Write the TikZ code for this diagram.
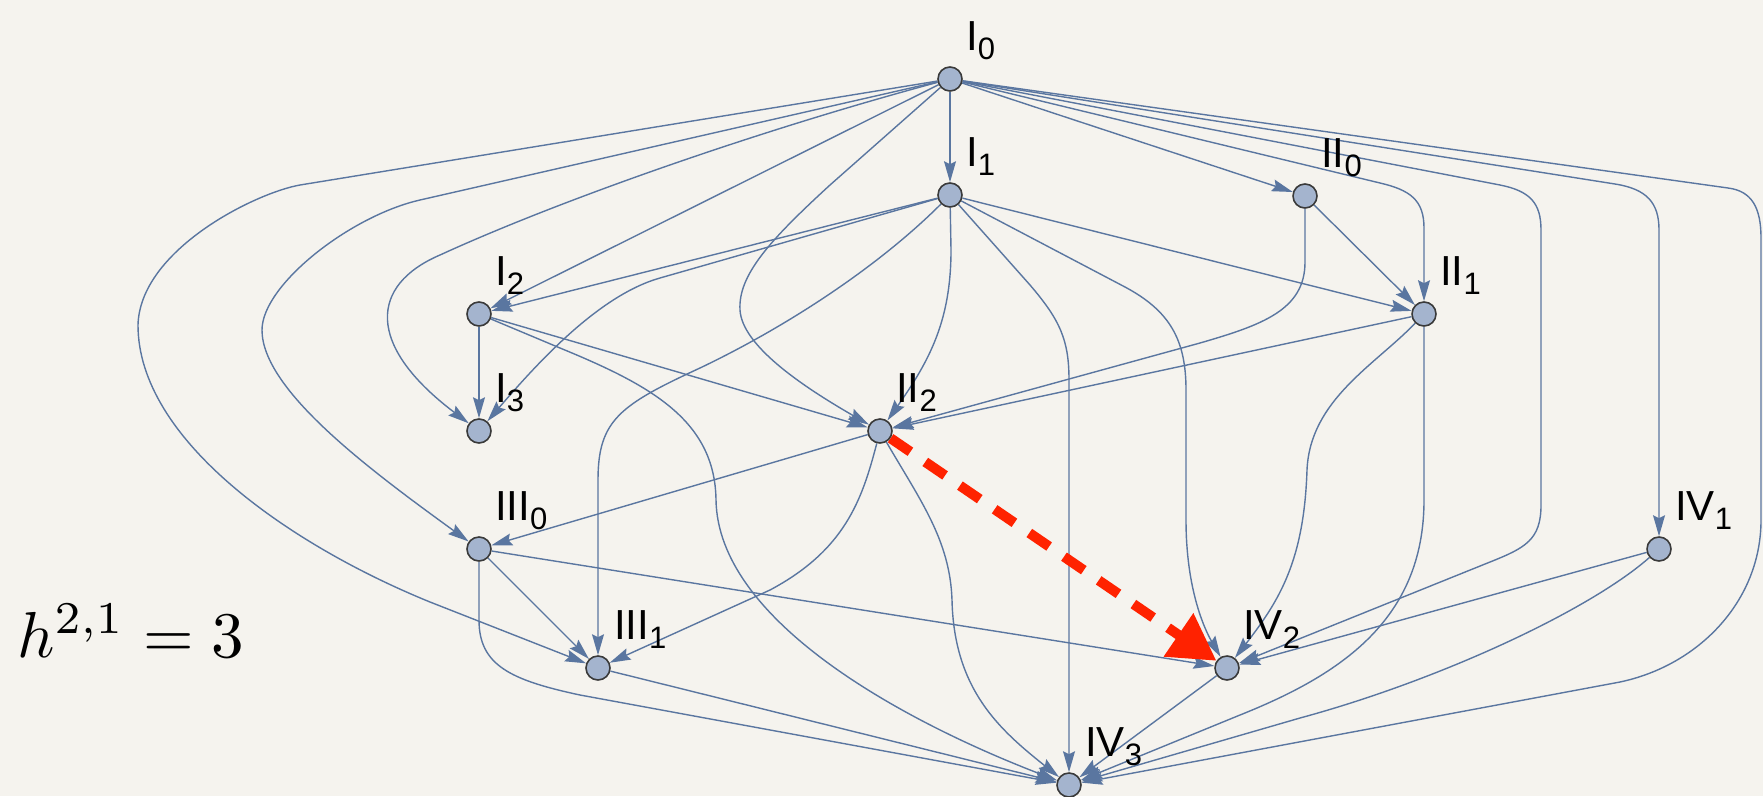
\documentclass[tikz,border=0pt]{standalone}
\usepackage[no-math]{fontspec}
\newfontfamily\labfont{Liberation Sans}
\usetikzlibrary{arrows.meta}
\pgfdeclarelayer{bg}
\pgfdeclarelayer{edges}
\pgfsetlayers{bg,edges,main}
\definecolor{paper}{HTML}{F5F3EE}
\definecolor{edgeblue}{HTML}{5A76A0}
\definecolor{nodefill}{HTML}{A4B4CE}
\definecolor{nodeline}{HTML}{3A3A3A}
\definecolor{redarrow}{HTML}{FF2200}
\newcommand\labsub[1]{\raisebox{-9pt}{\fontsize{31}{31}\selectfont #1}}
\tikzset{
  vtx/.style={circle, draw=nodeline, line width=1.6pt, fill=nodefill, inner sep=0pt, minimum size=24pt},
  edge/.style={draw=edgeblue, line width=1.4pt, -{Stealth[length=21pt,width=12pt,inset=3pt]}},
  lab/.style={anchor=base west, inner sep=0pt, font=\labfont\fontsize{42}{42}\selectfont},
  hot/.style={draw=redarrow, line width=10pt, dash pattern=on 24pt off 18pt, -{Triangle[length=46pt,width=50pt]}},
}
\begin{document}
\begin{tikzpicture}[x=1pt,y=-1pt]
\begin{pgfonlayer}{bg}
\fill[paper] (0,0) rectangle (1763,796);
\end{pgfonlayer}
\useasboundingbox (0,0) rectangle (1763,796);

\node[vtx] (I0) at (950,79) {};
\node[vtx] (I1) at (950,195) {};
\node[vtx] (II0) at (1305,196) {};
\node[vtx] (I2) at (479,314) {};
\node[vtx] (II1) at (1424,314) {};
\node[vtx] (I3) at (479,431) {};
\node[vtx] (II2) at (880,431) {};
\node[vtx] (III0) at (479,549) {};
\node[vtx] (IV1) at (1659,549) {};
\node[vtx] (III1) at (598,668) {};
\node[vtx] (IV2) at (1227,668) {};
\node[vtx] (IV3) at (1069,785) {};

\node[lab] (lI0) at ([shift={(16,-29)}]I0.center) {I\labsub{0}};
\node[lab] (lI1) at ([shift={(16,-29)}]I1.center) {I\labsub{1}};
\node[lab] (lII0) at ([shift={(16,-29)}]II0.center) {II\labsub{0}};
\node[lab] (lI2) at ([shift={(16,-29)}]I2.center) {I\labsub{2}};
\node[lab] (lII1) at ([shift={(16,-29)}]II1.center) {II\labsub{1}};
\node[lab] (lI3) at ([shift={(16,-29)}]I3.center) {I\labsub{3}};
\node[lab] (lII2) at ([shift={(16,-29)}]II2.center) {II\labsub{2}};
\node[lab] (lIII0) at ([shift={(16,-29)}]III0.center) {III\labsub{0}};
\node[lab] (lIV1) at ([shift={(16,-29)}]IV1.center) {IV\labsub{1}};
\node[lab] (lIII1) at ([shift={(16,-29)}]III1.center) {III\labsub{1}};
\node[lab] (lIV2) at ([shift={(16,-29)}]IV2.center) {IV\labsub{2}};
\node[lab] (lIV3) at ([shift={(16,-29)}]IV3.center) {IV\labsub{3}};

\node[anchor=base west, inner sep=0pt] (hodge) at (17,657) {\scalebox{6.5}{$h^{2,1}=3$}};

\begin{pgfonlayer}{edges}
% from I0
\draw[edge] (I0) -- (I1);
\draw[edge] (I0) -- (II0);
\draw[edge] (I0) -- (I2);
\draw[edge] (I0) -- (1380,183) .. controls (1410,190) and (1424,200) .. (1424,228) -- (II1);
\draw[edge] (I0) -- (1500,185) .. controls (1530,191) and (1541,203) .. (1541,230) -- (1541,505) .. controls (1541,540) and (1525,548) .. (1490,562) -- (IV2);
\draw[edge] (I0) -- (1615,184) .. controls (1647,189) and (1659,203) .. (1659,230) -- (IV1);
\draw[edge] (I0) -- (1728,188) .. controls (1752,191) and (1761,208) .. (1761,238) -- (1761,520) .. controls (1761,600) and (1700,665) .. (1620,682) -- (IV3);
\draw[edge] (I0) -- (300,185) .. controls (255,193) and (140,250) .. (138,325) .. controls (138,440) and (290,545) .. (430,602) -- (III1);
\draw[edge] (I0) -- (420,200) .. controls (350,216) and (262,285) .. (262,330) .. controls (262,390) and (370,470) .. (III0);
\draw[edge] (I0) .. controls (760,130) and (560,200) .. (440,255) .. controls (370,285) and (365,345) .. (I3);
\draw[edge] (I0) -- (830,185) .. controls (770,240) and (738,275) .. (740,310) .. controls (742,345) and (800,385) .. (II2);
% from I1
\draw[edge] (I1) -- (I2);
\draw[edge] (I1) -- (II1);
\draw[edge] (I1) -- (660,278) .. controls (600,295) and (540,360) .. (I3);
\draw[edge] (I1) .. controls (880,265) and (790,325) .. (700,368) .. controls (620,405) and (598,420) .. (598,480) -- (III1);
\draw[edge] (I1) -- (951,250) .. controls (951,320) and (930,360) .. (II2);
\draw[edge] (I1) -- (1030,285) .. controls (1060,320) and (1069,340) .. (1069,380) -- (IV3);
\draw[edge] (I1) -- (1125,287) .. controls (1170,311) and (1186,340) .. (1186,390) -- (1186,520) .. controls (1186,590) and (1205,630) .. (IV2);
% from II0
\draw[edge] (II0) -- (II1);
\draw[edge] (II0) -- (1305,262) .. controls (1305,310) and (1262,325) .. (1200,343) -- (II2);
% from I2
\draw[edge] (I2) -- (I3);
\draw[edge] (I2) -- (II2);
\draw[edge] (I2) -- (560,348) .. controls (650,385) and (715,420) .. (716,500) .. controls (718,620) and (900,720) .. (IV3);
% from II1
\draw[edge] (II1) -- (II2);
\draw[edge] (II1) .. controls (1375,365) and (1310,400) .. (1307,470) .. controls (1304,560) and (1280,600) .. (IV2);
\draw[edge] (II1) -- (1424,500) .. controls (1424,620) and (1340,675) .. (1240,715) -- (IV3);
% from II2
\draw[edge] (II2) -- (III0);
\draw[edge] (II2) .. controls (862,500) and (845,550) .. (770,590) -- (III1);
\draw[edge] (II2) .. controls (920,500) and (950,540) .. (952,600) .. controls (954,690) and (1000,730) .. (IV3);
% from III0
\draw[edge] (III0) -- (III1);
\draw[edge] (III0) -- (IV2);
\draw[edge] (III0) -- (479,620) .. controls (479,665) and (510,680) .. (580,695) -- (IV3);
% others
\draw[edge] (III1) -- (IV3);
\draw[edge] (IV2) -- (IV3);
\draw[edge] (IV1) -- (IV2);
\draw[edge] (IV1) .. controls (1590,610) and (1440,680) .. (1300,718) -- (IV3);
% highlighted
\draw[hot] (II2) -- (IV2);
\end{pgfonlayer}
\end{tikzpicture}
\end{document}
